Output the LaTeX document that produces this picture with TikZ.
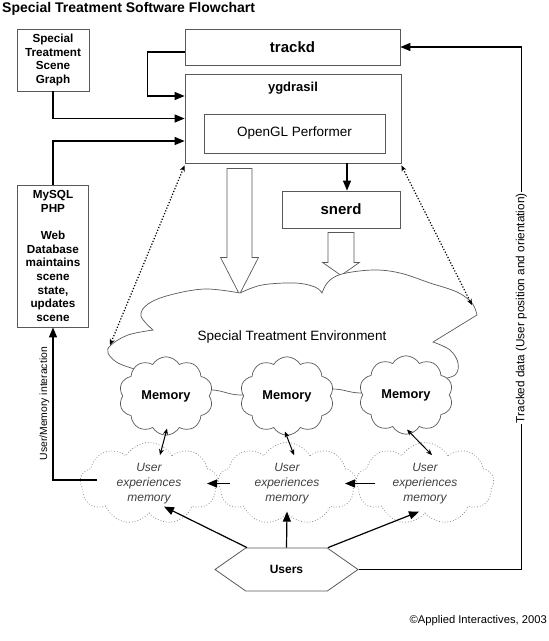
\documentclass[tikz,border=0pt]{standalone}
\usepackage{fontspec}
\setmainfont{Liberation Sans}
\usetikzlibrary{shapes.symbols,arrows.meta,calc}

\begin{document}
\begin{tikzpicture}[x=1pt,y=-1pt]
\tikzstyle{every node}=[inner sep=0pt, text centered]
\tikzstyle{box}=[rectangle, draw=black!65, line width=0.8pt]
\tikzstyle{boldtext}=[font=\fontsize{11.7}{13.7}\selectfont\bfseries, align=center]
\tikzstyle{bigname}=[font=\fontsize{15}{17}\selectfont\bfseries]
\tikzstyle{memory}=[cloud, cloud puffs=10, cloud puff arc=120, draw=black!65, line width=0.7pt, fill=white,
  minimum width=94pt, minimum height=62pt, font=\fontsize{12.8}{14}\selectfont\bfseries]
\tikzstyle{experience}=[cloud, cloud puffs=9, cloud puff arc=120, cloud ignores aspect, draw=black!45, dotted, line width=0.8pt,
  minimum width=138pt, minimum height=82pt, font=\fontsize{12}{15}\selectfont\itshape, text=black!75, align=center]
\tikzstyle{hollow}=[draw=black!65, line width=0.7pt, fill=white]
\tikzstyle{flow}=[line width=1.2pt, -{Triangle[length=10pt,width=8pt]}]
\tikzstyle{link}=[line width=1pt, {Stealth[length=6pt,width=5pt]}-{Stealth[length=6pt,width=5pt]}]
\tikzstyle{dotlink}=[line width=1.2pt, dash pattern=on 1.2pt off 1.8pt, {Stealth[length=6pt,width=5pt]}-{Stealth[length=6pt,width=5pt]}]
\tikzstyle{cloudline}=[draw=black!65, line width=0.7pt, fill=white]
\useasboundingbox (0,0) rectangle (549,641);

\node[anchor=west, font=\fontsize{14}{16}\selectfont\bfseries] (title) at (2,8.5) {Special Treatment Software Flowchart};

% boxes at the top
\node[box, boldtext, minimum width=72pt, minimum height=62pt] (scene) at (53,60) {Special\\Treatment\\Scene\\Graph};
\node[box, bigname, minimum width=215pt, minimum height=36pt] (trackd) at (292.5,47) {trackd};
\node[box, minimum width=216pt, minimum height=89pt] (ygg) at (293,118.5) {};
\node[font=\fontsize{13}{14}\selectfont\bfseries, anchor=base] (ygglabel) at ([yshift=-18pt]ygg.north) {ygdrasil};
\node[box, font=\fontsize{13.5}{15}\selectfont, minimum width=181pt, minimum height=39pt] (ogl) at (294.5,133.5) {OpenGL Performer};
\node[box, bigname, minimum width=118pt, minimum height=37pt] (snerd) at (341,209.5) {snerd};
\node[box, boldtext, minimum width=71pt, minimum height=142pt] (mysql) at (53,256)
  {MySQL\\PHP\\[13.7pt]Web\\Database\\maintains\\scene\\state,\\updates\\scene};

% block arrows into the environment
\coordinate (envtail) at ([yshift=-5pt]ygg.south west -| 239.5,0);
\coordinate (snerdtail) at ([yshift=-4pt]snerd.south);
\draw[hollow] (envtail) ++(-12.5,0) -- ++(25,0) -- ++(0,89) -- ++(6.5,0) -- ++(-19,37) -- ++(-19,-37) -- ++(6.5,0) -- cycle;
\draw[hollow] (snerdtail) ++(-13,0) -- ++(26,0) -- ++(0,30) -- ++(5.5,0) -- ++(-18.5,13) -- ++(-18.5,-13) -- ++(5.5,0) -- cycle;

% the environment
\draw[cloudline] plot[smooth, tension=0.6] coordinates {(153,330) (141,316) (148,304) (170,295) (205,289) (240,293)}
  -- plot[smooth, tension=0.6] coordinates {(240,293) (262,285) (295,283) (315,287) (322,293)}
  -- plot[smooth, tension=0.6] coordinates {(322,293) (328,282) (342,274) (373,270) (400,273) (430,283) (457,292) (472,303) (477,315)}
  -- (433,342)
  -- plot[smooth, tension=0.6] coordinates {(433,342) (450,350) (458,363) (455,375) (438,380)}
  -- plot[smooth, tension=0.6] coordinates {(438,380) (406,392) (360,393) (332,389) (287,393) (240,395) (213,390) (167,388) (138,370)}
  -- plot[smooth, tension=0.6] coordinates {(138,370) (118,363) (108,353) (111,345) (128,335) (153,330)}
  -- cycle;
\coordinate (envL) at (110,345);
\coordinate (envR) at (472,305);
\node[font=\fontsize{13.5}{15}\selectfont] (env) at (292,337) {Special Treatment Environment};

% memories and users
\node[memory] (mem1) at (166,396) {Memory};
\node[memory] (mem2) at (287,396) {Memory};
\node[memory] (mem3) at (406,395) {Memory};
\node[experience] (ue1) at (149,483.5) {User\\experiences\\memory};
\node[experience] (ue2) at (287,483.5) {User\\experiences\\memory};
\node[experience] (ue3) at (425,483.5) {User\\experiences\\memory};
\node[signal, signal to=east and west, signal pointer angle=70, draw=black!65, line width=0.8pt,
  minimum width=143pt, minimum height=43pt, font=\fontsize{12}{14}\selectfont\bfseries] (users) at (286.5,569.5) {Users};

\node[anchor=east, font=\fontsize{11.2}{13}\selectfont] (copy) at (547,621) {\textcopyright Applied Interactives, 2003};

% connectors
\draw[flow] ([yshift=-5pt]trackd.west) -- ++(-37,0) |- ([yshift=22.5pt]ygg.west);
\draw[flow] (scene.south) |- (ygg.west);
\draw[flow] (mysql.north) |- ([yshift=-22.5pt]ygg.west);
\draw[flow] ([xshift=6pt]snerd.north |- ygg.south) -- ([xshift=6pt]snerd.north);
\draw[dotlink] ([yshift=-2pt]ygg.south west) -- (envL);
\draw[dotlink] ([yshift=-2pt]ygg.south east) -- (envR);
\draw[link] ([xshift=1pt,yshift=7pt]mem1.south) -- ([xshift=11pt,yshift=-13pt]ue1.north);
\draw[link] ([xshift=-2pt,yshift=4pt]mem2.south) -- ([xshift=7pt,yshift=-13pt]ue2.north);
\draw[link] ([xshift=1pt,yshift=5pt]mem3.south) -- ([xshift=7pt,yshift=-13pt]ue3.north);
\draw[flow] ([xshift=19pt]ue3.west) -- ([xshift=-11pt]ue3.west);
\draw[flow] ([xshift=12pt]ue2.west) -- ([xshift=-11pt]ue2.west);
\draw[flow] ([xshift=-39.5pt]users.north) -- ([xshift=15pt,yshift=7pt]ue1.south);
\draw[flow] (users.north) -- ([yshift=2pt]ue2.south);
\draw[flow] ([xshift=41.5pt]users.north) -- ([xshift=-6pt,yshift=2pt]ue3.south);
\draw[flow] ([xshift=17pt,yshift=3.5pt]ue1.west) -| node[pos=0.75, rotate=90, anchor=south, inner sep=3pt,
  font=\fontsize{10.4}{12}\selectfont] (umlabel) {User/Memory interaction} (mysql.south);
\draw[flow] (users.east) -| node[pos=0.75, rotate=90, fill=white, inner sep=1pt,
  font=\fontsize{11.8}{13}\selectfont] (tracklabel) {Tracked data (User position and orientation)} ([xshift=121pt]trackd.east) -- (trackd.east);
\end{tikzpicture}
\end{document}
